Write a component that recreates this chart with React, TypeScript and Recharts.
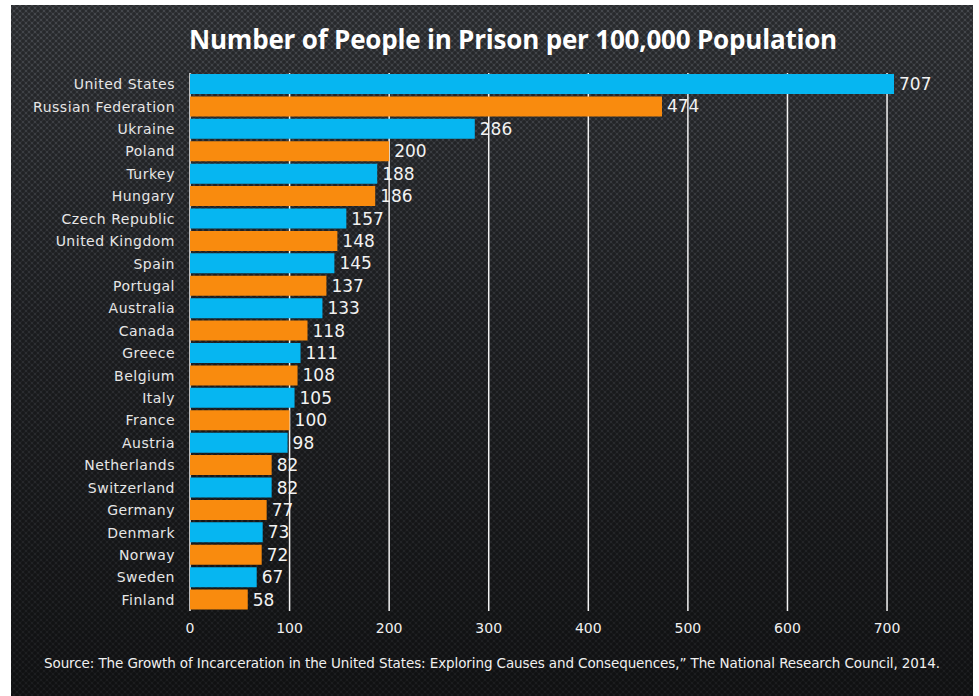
import React from "react";
import { BarChart, Bar, XAxis, YAxis, CartesianGrid, Cell, LabelList } from "recharts";

const countries = [
  "United States", "Russian Federation", "Ukraine", "Poland", "Turkey", "Hungary",
  "Czech Republic", "United Kingdom", "Spain", "Portugal", "Australia", "Canada",
  "Greece", "Belgium", "Italy", "France", "Austria", "Netherlands", "Switzerland",
  "Germany", "Denmark", "Norway", "Sweden", "Finland",
];
const rates = [707, 474, 286, 200, 188, 186, 157, 148, 145, 137, 133, 118, 111, 108, 105, 100, 98, 82, 82, 77, 73, 72, 67, 58];
const xTicks = [0, 100, 200, 300, 400, 500, 600, 700];
const palette = ["#06b6f1", "#f98b0e"];
const title = "Number of People in Prison per 100,000 Population";
const source =
  "Source: The Growth of Incarceration in the United States: Exploring Causes and Consequences,\u201d The National Research Council, 2014.";

const data = countries.map((c, i) => ({ country: c, rate: rates[i] }));

const dots =
  "radial-gradient(circle at center, rgba(0,0,0,0.42) 0px, rgba(0,0,0,0.42) 1.4px, rgba(0,0,0,0) 2.4px)";

export default function App() {
  return (
    <div style={{ position: "absolute", left: 0, top: 0, width: 979, height: 696, background: "#ffffff", overflow: "hidden" }}>
      <div
        style={{
          position: "absolute",
          left: 11,
          top: 5,
          width: 962,
          height: 691,
          background: `${dots} 0 0 / 6px 6px, ${dots} 3px 3px / 6px 6px, linear-gradient(#45484d 0%, #2e3034 45%, #1b1c1e 100%)`,
        }}
      />
      <div
        style={{
          position: "absolute",
          left: 32,
          width: 962,
          top: 21,
          textAlign: "center",
          color: "#ffffff",
          fontFamily: "'Open Sans', sans-serif",
          fontWeight: 700,
          fontSize: 26,
          lineHeight: "36px",
          letterSpacing: -0.2,
        }}
      >
        {title}
      </div>
      <div style={{ position: "absolute", left: 0, top: 0 }}>
        <BarChart
          width={979}
          height={696}
          data={data}
          layout="vertical"
          margin={{ top: 73, right: 82, bottom: 55, left: 0 }}
          barCategoryGap={1}
        >
          <CartesianGrid horizontal={false} stroke="#f2f2f2" strokeWidth={1.5} syncWithTicks />
          <XAxis
            type="number"
            domain={[0, 710]}
            ticks={xTicks}
            axisLine={false}
            tickLine={false}
            tickSize={0}
            tickMargin={12}
            height={30}
            tick={{ fill: "#f0f0f0", fontSize: 14, fontFamily: "'DejaVu Sans', sans-serif" }}
          />
          <YAxis
            type="category"
            dataKey="country"
            width={190}
            axisLine={false}
            tickLine={false}
            tickSize={0}
            tickMargin={15}
            interval={0}
            tick={{ fill: "#e6e6e6", fontSize: 14, letterSpacing: 0.5, fontFamily: "'DejaVu Sans', sans-serif" }}
          />
          <Bar dataKey="rate" isAnimationActive={false}>
            {data.map((d, i) => (
              <Cell key={d.country} fill={palette[i % 2]} />
            ))}
            <LabelList
              dataKey="rate"
              position="right"
              offset={5}
              fill="#f2f2f2"
              fontSize={17}
              fontFamily="'DejaVu Sans', sans-serif"
            />
          </Bar>
        </BarChart>
      </div>
      <div
        style={{
          position: "absolute",
          left: 11,
          width: 962,
          top: 653,
          textAlign: "center",
          color: "#f0f0f0",
          fontFamily: "'DejaVu Sans', sans-serif",
          fontSize: 13.5,
          lineHeight: "20px",
          letterSpacing: -0.1,
          whiteSpace: "nowrap",
        }}
      >
        {source}
      </div>
    </div>
  );
}
